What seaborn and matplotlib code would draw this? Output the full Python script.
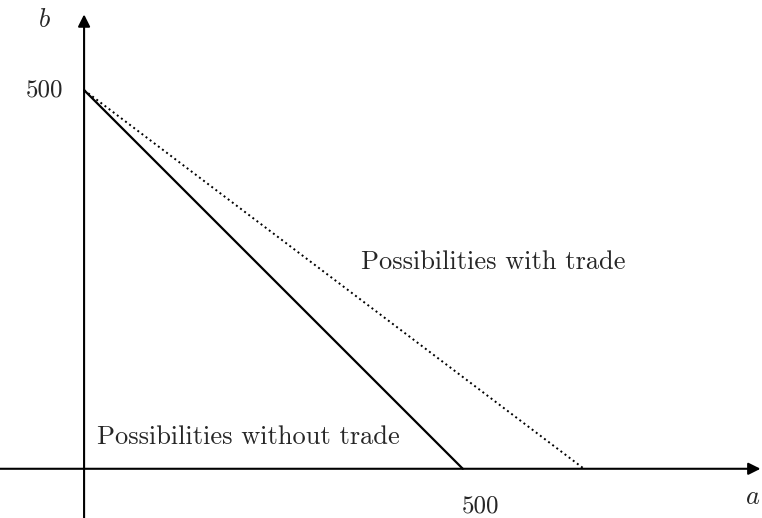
import matplotlib
matplotlib.use("Agg")
import matplotlib.pyplot as plt
import seaborn as sns
import pandas as pd

# data
no_trade_a = [0, 500]
no_trade_b = [500, 0]
trade_a = [0, 660]
trade_b = [500, 0]
tick_value = 500

sns.set_style("white")
plt.rcParams["font.family"] = ["cmr10", "DejaVu Serif"]
plt.rcParams["mathtext.fontset"] = "cm"
plt.rcParams["axes.formatter.use_mathtext"] = True

fig = plt.figure(figsize=(7.62, 5.18), dpi=100)
ax = fig.add_axes([0, 0, 1, 1])
ax.set_xlim(-111, 895)
ax.set_ylim(-65, 619)
ax.axis("off")

no_trade = pd.DataFrame({"a": no_trade_a, "b": no_trade_b})
trade = pd.DataFrame({"a": trade_a, "b": trade_b})
sns.lineplot(data=no_trade, x="a", y="b", color="black", lw=1.6, ax=ax, sort=False)
sns.lineplot(data=trade, x="a", y="b", color="black", lw=1.4, ls=":", ax=ax, sort=False)

# axes with arrows
arrow = dict(arrowstyle="-|>", lw=1.5, color="black", mutation_scale=18, shrinkA=0, shrinkB=0)
ax.annotate("", xy=(893, 0), xytext=(-111, 0), arrowprops=arrow)
ax.annotate("", xy=(0, 600), xytext=(0, -65), arrowprops=arrow)

ax.text(-52, tick_value, str(tick_value), fontsize=18, ha="center", va="center")
ax.text(523, -50, str(tick_value), fontsize=18, ha="center", va="center")
ax.text(-52, 592, "$b$", fontsize=19, ha="center", va="center")
ax.text(882, -37, "$a$", fontsize=19, ha="center", va="center")

ax.text(365, 273, "Possibilities with trade", fontsize=19, ha="left", va="center")
ax.text(17, 42, "Possibilities without trade", fontsize=19, ha="left", va="center")

fig.savefig("out.png", dpi=100)
